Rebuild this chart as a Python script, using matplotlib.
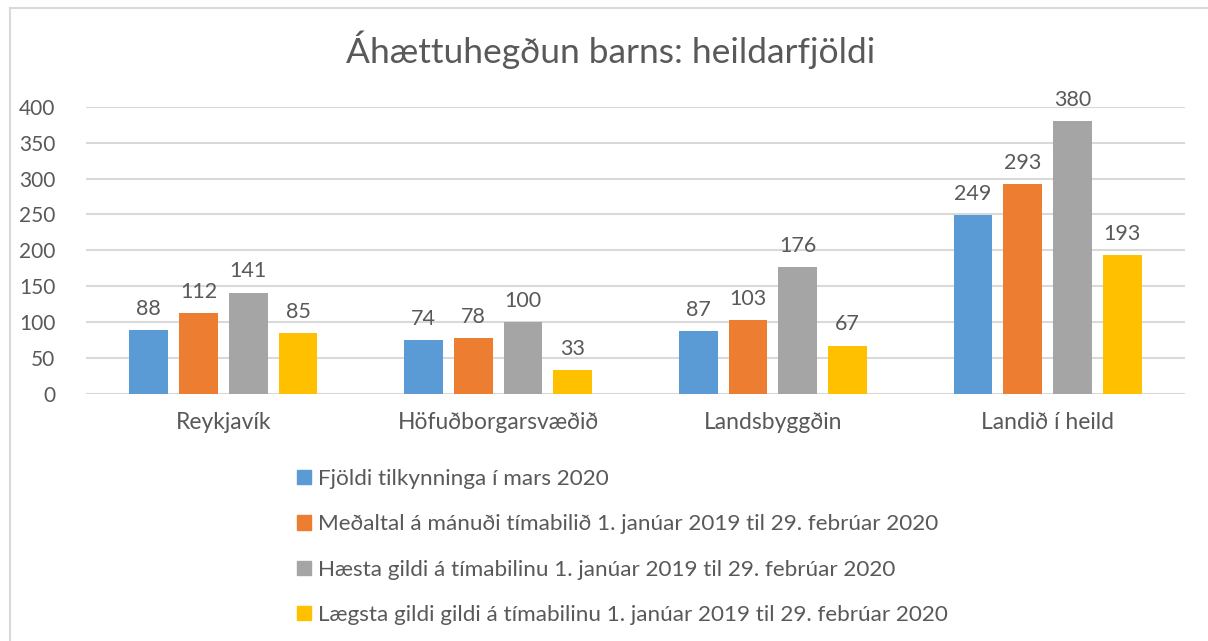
import matplotlib
matplotlib.use("Agg")
import matplotlib.pyplot as plt
import numpy as np
from matplotlib.lines import Line2D

plt.rcParams['font.family'] = ['Lato', 'DejaVu Sans']

title = "Áhættuhegðun barns: heildarfjöldi"
categories = ["Reykjavík", "Höfuðborgarsvæðið", "Landsbyggðin", "Landið í heild"]
series_names = [
    "Fjöldi tilkynninga í mars 2020",
    "Meðaltal á mánuði tímabilið 1. janúar 2019 til 29. febrúar 2020",
    "Hæsta gildi á tímabilinu 1. janúar 2019 til 29. febrúar 2020",
    "Lægsta gildi gildi á tímabilinu 1. janúar 2019 til 29. febrúar 2020",
]
fjoldi = [88, 74, 87, 249]
medaltal = [112, 78, 103, 293]
haesta = [141, 100, 176, 380]
laegsta = [85, 33, 67, 193]
yticks = [0, 50, 100, 150, 200, 250, 300, 350, 400]
colors = ["#5B9BD5", "#ED7D31", "#A5A5A5", "#FFC000"]
text_color = "#595959"

W, H = 1208, 641
fig = plt.figure(figsize=(W / 100, H / 100), dpi=100)
ax = fig.add_axes([86 / W, 1 - 393.5 / H, (1185 - 86) / W, (393.5 - 107) / H])

x = np.arange(len(categories))
bw = 0.141
pitch = 0.181
series = [fjoldi, medaltal, haesta, laegsta]
for i, (vals, c) in enumerate(zip(series, colors)):
    off = (i - 1.5) * pitch
    ax.bar(x + off, vals, width=bw, color=c, zorder=3, label=series_names[i])
    for xi, v in zip(x + off, vals):
        ax.annotate(str(v), (xi, v), xytext=(0, 8), textcoords="offset points",
                    ha="center", va="bottom", fontsize=15.5, color=text_color)

ax.set_xlim(-0.5, len(categories) - 0.5)
ax.set_ylim(0, 400)
ax.set_yticks(yticks)
ax.set_yticklabels([str(t) for t in yticks])
ax.set_xticks(x)
ax.set_xticklabels(categories, fontsize=16.5)
ax.tick_params(axis="both", length=0, colors=text_color)
ax.tick_params(axis="y", pad=22, labelsize=15)
ax.tick_params(axis="x", pad=13)
ax.grid(axis="y", color="#D9D9D9", linewidth=1.5, zorder=0)
for s in ax.spines.values():
    s.set_visible(False)

fig.text(611 / W, 1 - 50 / H, title, ha="center", va="center", fontsize=25.5, color=text_color)

leg_handles = [plt.Rectangle((0, 0), 1, 1, color=c) for c in colors]
fig.legend(leg_handles, series_names, loc="upper left",
           bbox_to_anchor=(297 / W, 1 - 469 / H), frameon=False,
           fontsize=16.2, labelcolor=text_color, handlelength=0.6, handleheight=0.6,
           handletextpad=0.35, labelspacing=1.13, borderpad=0, borderaxespad=0)

# outer chart frame (top and left visible)
fig.add_artist(Line2D([10 / W, 10 / W], [0, 1 - 8 / H], color="#D9D9D9", linewidth=1.5))
fig.add_artist(Line2D([10 / W, 1], [1 - 8 / H, 1 - 8 / H], color="#D9D9D9", linewidth=1.5))

fig.savefig("out.png", dpi=100)
